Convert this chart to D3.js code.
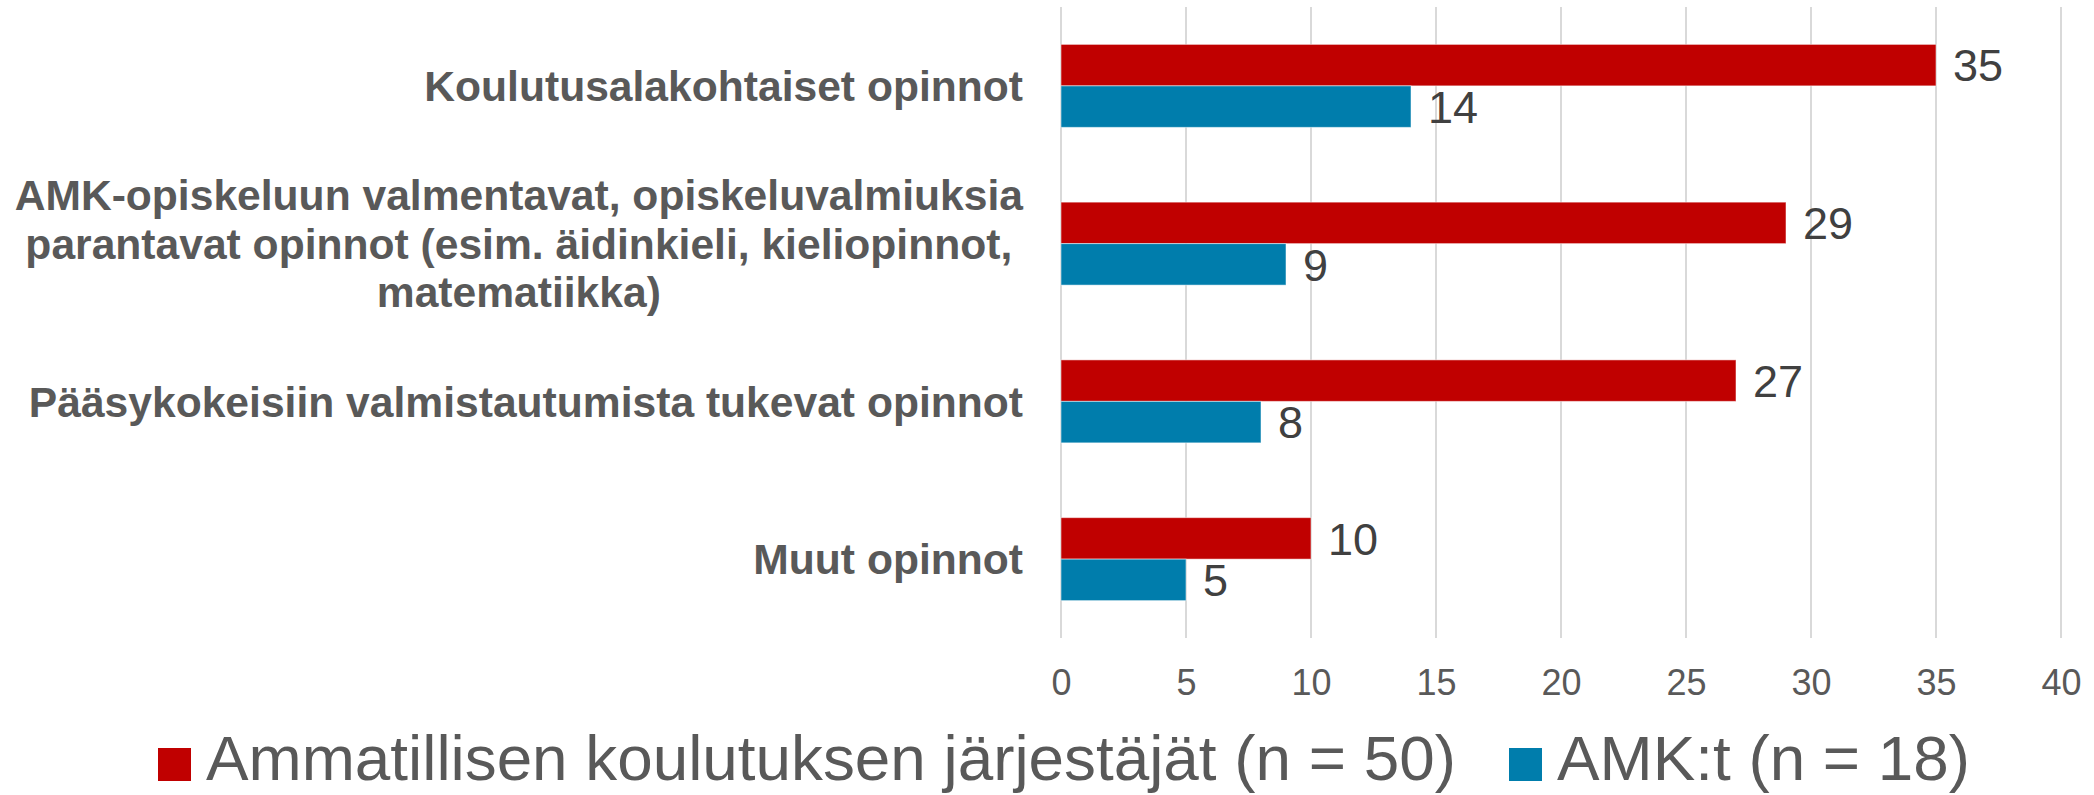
<!DOCTYPE html>
<html>
<head>
<meta charset="utf-8">
<script src="https://cdn.jsdelivr.net/npm/d3@7"></script>
<style>
  body { margin: 0; background: #fff; }
  text { font-family: "Liberation Sans", Arial, sans-serif; }
</style>
</head>
<body>
<script>
const categories = [
  ["Koulutusalakohtaiset opinnot"],
  ["AMK-opiskeluun valmentavat, opiskeluvalmiuksia", "parantavat opinnot (esim. äidinkieli, kieliopinnot,", "matematiikka)"],
  ["Pääsykokeisiin valmistautumista tukevat opinnot"],
  ["Muut opinnot"]
];
const seriesNames = ["Ammatillisen koulutuksen järjestäjät (n = 50)", "AMK:t (n = 18)"];
const seriesColors = ["#c00000", "#007dac"];
const ammatillinen = [35, 29, 27, 10];
const amk = [14, 9, 8, 5];
const xTicks = [0, 5, 10, 15, 20, 25, 30, 35, 40];

const width = 2094, height = 795;
const plotLeft = 1061, plotRight = 2061, plotTop = 7, plotBottom = 638;

const svg = d3.create("svg")
  .attr("width", width)
  .attr("height", height);
document.body.appendChild(svg.node());

const x = d3.scaleLinear().domain([0, 40]).range([plotLeft, plotRight]);
const y0 = d3.scaleBand()
  .domain(d3.range(categories.length))
  .range([plotTop, plotBottom])
  .paddingInner(0.474)
  .paddingOuter(0.237);
const y1 = d3.scaleBand().domain([0, 1]).range([0, y0.bandwidth()]);

// gridlines
svg.append("g")
  .selectAll("line")
  .data(xTicks)
  .join("line")
  .attr("x1", d => x(d)).attr("x2", d => x(d))
  .attr("y1", plotTop).attr("y2", plotBottom)
  .attr("stroke", "#d9d9d9")
  .attr("stroke-width", 2);

// x axis labels
const xAxis = d3.axisBottom(x).tickValues(xTicks).tickSize(0).tickPadding(0);
const ax = svg.append("g").attr("transform", `translate(0, ${plotBottom + 31})`).call(xAxis);
ax.select(".domain").remove();
ax.selectAll("text")
  .attr("dy", "0.71em")
  .attr("font-size", 36)
  .attr("font-family", "Liberation Sans, Arial, sans-serif")
  .attr("fill", "#595959");

const rows = categories.map((c, i) => ({ i, values: [ammatillinen[i], amk[i]] }));

const groups = svg.append("g")
  .selectAll("g")
  .data(rows)
  .join("g")
  .attr("transform", d => `translate(0, ${y0(d.i)})`);

groups.selectAll("rect")
  .data(d => d.values.map((v, s) => ({ v, s })))
  .join("rect")
  .attr("x", x(0))
  .attr("y", d => y1(d.s))
  .attr("width", d => x(d.v) - x(0))
  .attr("height", y1.bandwidth())
  .attr("fill", d => seriesColors[d.s])
  .attr("stroke", "#ffffff")
  .attr("stroke-opacity", 0.5)
  .attr("stroke-width", 1);

groups.selectAll("text.val")
  .data(d => d.values.map((v, s) => ({ v, s })))
  .join("text")
  .attr("class", "val")
  .attr("x", d => x(d.v) + 17)
  .attr("y", d => y1(d.s) + y1.bandwidth() / 2)
  .attr("dy", "0.36em")
  .attr("font-size", 45)
  .attr("fill", "#404040")
  .text(d => d.v);

// category labels
const lineH = 48.5;
const labelRight = 1023;
const labels = svg.append("g")
  .selectAll("text")
  .data(categories)
  .join("text")
  .attr("font-size", 42.6)
  .attr("font-weight", "bold")
  .attr("fill", "#595959")
  .each(function (lines, i) {
    const cy = y0(i) + y0.bandwidth() / 2;
    const t = d3.select(this);
    const startY = cy - (lines.length - 1) * lineH / 2;
    lines.forEach((ln, k) => {
      t.append("tspan")
        .attr("y", startY + k * lineH)
        .attr("dy", "0.36em")
        .text(ln);
    });
  });

// single lines right aligned; wrapped block centred on its widest line
labels.each(function (lines) {
  const t = d3.select(this);
  const tspans = t.selectAll("tspan").nodes();
  if (lines.length === 1) {
    t.attr("text-anchor", "end");
    tspans.forEach(n => n.setAttribute("x", labelRight));
  } else {
    t.attr("text-anchor", "middle");
    const widest = d3.max(tspans, n => n.getComputedTextLength());
    tspans.forEach(n => n.setAttribute("x", labelRight - widest / 2));
  }
});

// legend
const legend = svg.append("g");
const legendX = [158, 1509];
seriesNames.forEach((name, s) => {
  legend.append("rect")
    .attr("x", legendX[s]).attr("y", 748)
    .attr("width", 33).attr("height", 33)
    .attr("fill", seriesColors[s]);
  legend.append("text")
    .attr("x", legendX[s] + 48)
    .attr("y", 780)
    .attr("font-size", 63.8)
    .attr("fill", "#595959")
    .text(name);
});
</script>
</body>
</html>
